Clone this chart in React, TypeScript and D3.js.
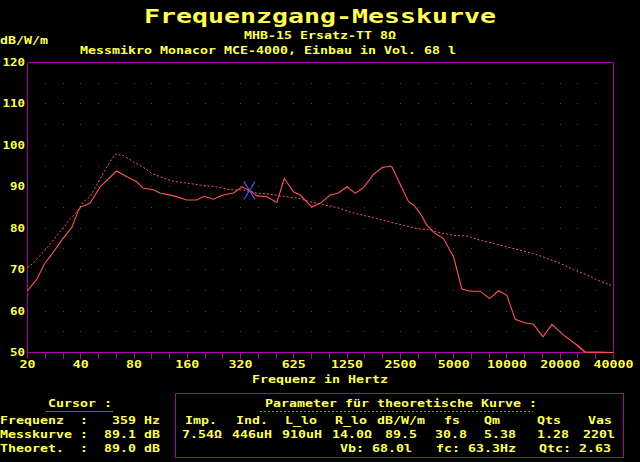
import React from "react";
import * as d3 from "d3";

// ---- data ----
const xTickLabels = ["20", "40", "80", "160", "320", "625", "1250", "2500", "5000", "10000", "20000", "40000"];
const yTickValues = [50, 60, 70, 80, 90, 100, 110, 120];

const measuredFreq = [20, 22.6, 25, 26.9, 31.5, 35.6, 38.8, 39.9, 45.2, 51.5, 63.7, 72.9, 83.1, 89.8, 103, 112, 134, 159, 181, 199, 225, 245, 256, 292, 326, 363, 396, 451, 513, 565, 637, 695, 809, 902, 1027, 1144, 1276, 1422, 1584, 1804, 2013, 2242, 2293, 2845, 3036, 3313, 3615, 4026, 4485, 5110, 5700, 6352, 7232, 8161, 9178, 10240, 11400, 12988, 14470, 16352, 18384, 21380, 25440, 28340, 40960];
const measuredDb = [64.9, 67.7, 71.5, 73.2, 77.3, 80.2, 84.3, 85.1, 86.1, 90.0, 93.8, 92.4, 91.2, 89.7, 89.3, 88.5, 87.8, 86.8, 86.8, 87.7, 87.0, 87.7, 88.0, 88.5, 90.0, 89.0, 87.8, 87.6, 86.2, 92.0, 88.8, 88.0, 85.1, 86.0, 88.0, 88.5, 90.0, 88.4, 89.8, 93.0, 94.6, 95.0, 94.8, 86.4, 85.6, 83.6, 80.7, 78.7, 77.5, 73.1, 65.3, 64.8, 64.8, 63.0, 64.9, 63.8, 58.0, 57.1, 56.8, 53.8, 56.8, 54.2, 51.8, 50.1, 50.0];

const theoFreq = [20, 21.6, 24.6, 27.5, 31.3, 34.9, 38.0, 41.4, 45.2, 51.5, 56.2, 62.6, 69.7, 79.5, 90.5, 101, 117, 134, 159, 189, 225, 245, 279, 332, 396, 470, 559, 666, 792, 942, 1120, 1333, 1584, 1886, 2242, 2666, 3174, 3772, 4296, 5110, 6084, 7232, 8600, 10240, 12168, 14470, 17220, 20480, 24360, 28980, 34480, 40960];
const theoDb = [70.5, 71.6, 74.3, 76.7, 79.7, 82.3, 83.9, 86.4, 87.6, 92.0, 94.8, 97.9, 97.5, 96.0, 94.7, 93.2, 92.1, 91.3, 90.9, 90.4, 90.1, 89.8, 89.3, 89.2, 88.5, 88.2, 87.7, 87.3, 86.4, 85.7, 85.0, 83.9, 83.1, 82.3, 81.5, 80.7, 79.9, 79.6, 78.9, 78.3, 78.1, 77.1, 76.3, 75.5, 74.7, 73.9, 72.7, 71.5, 70.0, 68.7, 67.2, 66.0];

const cursorFreq = 359;
const cursorDb = 89.1;

const cursorRows = [
  ["Frequenz", "359", "Hz"],
  ["Messkurve", "89.1", "dB"],
  ["Theoret.", "89.0", "dB"],
];
const paramHeaders = ["Imp.", "Ind.", "L_lo", "R_lo", "dB/W/m", "fs", "Qm", "Qts", "Vas"];
const paramValues = ["7.54Ω", "446uH", "910uH", "14.0Ω", "89.5", "30.8", "5.38", "1.28", "220l"];
const paramExtra = ["Vb: 68.0l", "fc: 63.3Hz", "Qtc: 2.63"];

// ---- styles / layout ----
const W = 640, H = 462;
const YEL = "#ffff55";
const MAG = "#aa00aa";
const RED = "#ff5555";
const BLUE = "#5555ff";
const FONT = "'DejaVu Sans Mono', 'Liberation Mono', monospace";

const headerX = [185, 236, 285, 335, 377, 444, 484, 537, 588];
const valueX = [182, 232, 282, 332, 385, 435, 484, 537, 583];
const extraX = [340, 436, 539];

function T({ x, y, s, cw = 8, fs = 10, anchor = "start", fill = YEL }: any) {
  return (
    <text
      x={x}
      y={y}
      textLength={s.length * cw}
      lengthAdjust="spacingAndGlyphs"
      fontSize={fs}
      fontFamily={FONT}
      fontWeight="bold"
      textAnchor={anchor}
      fill={fill}
    >
      {s}
    </text>
  );
}

export default function App() {
  const x = d3.scaleLog().base(2).domain([20, 40960]).range([27.5, 613.5]);
  const y = d3.scaleLinear().domain([50, 120]).range([352.5, 62.5]);
  const px = (v: number) => Math.round(x(v) - 0.5) + 0.5;
  const py = (v: number) => Math.round(y(v) - 0.5) + 0.5;

  const thirdOct = d3.range(0, 34).map((i) => 20 * Math.pow(2, i / 3));
  const octaves = d3.range(0, 12).map((i) => 20 * Math.pow(2, i));
  const gridDb = d3.range(55, 120, 5);

  const line = d3
    .line<[number, number]>()
    .x((d) => x(d[0]))
    .y((d) => y(d[1]));
  const measured = line(measuredFreq.map((f, i) => [f, measuredDb[i]]) as [number, number][]);
  const theo = line(theoFreq.map((f, i) => [f, theoDb[i]]) as [number, number][]);

  const cx = x(cursorFreq), cy = y(cursorDb);

  return (
    <svg width={W} height={H} style={{ position: "absolute", left: 0, top: 0, display: "block" }}>
      <rect x={0} y={0} width={W} height={H} fill="#000" />

      {/* titles */}
      <T x={320} y={23} s="Frequenzgang-Messkurve" cw={16} fs={19} anchor="middle" />
      <T x={320} y={39} s="MHB-15 Ersatz-TT 8Ω" anchor="middle" />
      <T x={0} y={44} s="dB/W/m" />
      <T x={80} y={54} s="Messmikro Monacor MCE-4000, Einbau in Vol. 68 l" />

      {/* grid dots */}
      <g fill={MAG} shapeRendering="crispEdges">
        {thirdOct.slice(1, 33).map((f, i) =>
          gridDb.map((db, j) => (
            <rect key={i + "-" + j} x={px(f) - 0.5} y={py(db) - 0.5} width={1} height={1} />
          ))
        )}
      </g>

      {/* frame / axes */}
      <g stroke={MAG} strokeWidth={1} fill="none" shapeRendering="crispEdges">
        <line x1={px(20)} x2={px(40960)} y1={py(120)} y2={py(120)} />
        <line x1={px(20)} x2={px(20)} y1={py(120)} y2={py(50)} />
        <line x1={px(40960)} x2={px(40960)} y1={py(120)} y2={py(50)} />
        {thirdOct.map((f, i) => (
          <line key={i} x1={px(f)} x2={px(f)} y1={py(50)} y2={py(50) + 6} />
        ))}
      </g>

      {/* y labels */}
      {yTickValues.map((v) => (
        <T key={v} x={25} y={y(v) + 3.5} s={String(v)} cw={7.5} anchor="end" />
      ))}

      {/* x labels */}
      {octaves.map((f, i) => (
        <T key={i} x={x(f)} y={368} s={xTickLabels[i]} anchor="middle" />
      ))}
      <T x={320} y={383} s="Frequenz in Hertz" anchor="middle" />

      {/* curves */}
      <path d={theo || ""} fill="none" stroke={RED} strokeWidth={1} strokeDasharray="2 2" />
      <path d={measured || ""} fill="none" stroke={RED} strokeWidth={1.1} />
      <line x1={px(20)} x2={px(40960)} y1={py(50)} y2={py(50)} stroke={MAG} shapeRendering="crispEdges" />
      <path
        d={line(measuredFreq.map((f, i) => [f, measuredDb[i]]).filter((d) => d[0] >= 25440) as [number, number][]) || ""}
        fill="none"
        stroke={RED}
        strokeWidth={1.1}
      />

      {/* cursor */}
      <g stroke={BLUE} strokeWidth={1.2}>
        <line x1={cx - 5.5} y1={cy - 9} x2={cx + 5.5} y2={cy + 9} />
        <line x1={cx + 5.5} y1={cy - 9} x2={cx - 5.5} y2={cy + 9} />
      </g>

      {/* cursor panel */}
      <T x={48} y={407} s="Cursor :" />
      <line x1={46} x2={113} y1={411.5} y2={411.5} stroke={BLUE} strokeWidth={1} />
      {cursorRows.map((r, i) => (
        <g key={i}>
          <T x={0} y={424 + i * 14} s={r[0]} />
          <T x={80} y={424 + i * 14} s=":" />
          <T x={136} y={424 + i * 14} s={r[1]} anchor="end" />
          <T x={144} y={424 + i * 14} s={r[2]} />
        </g>
      ))}

      {/* parameter box */}
      <rect x={175.5} y={393.5} width={448} height={64} fill="none" stroke={MAG} strokeWidth={1} />
      <T x={265} y={407} s="Parameter für theoretische Kurve :" />
      <line x1={260} x2={533} y1={411.5} y2={411.5} stroke={RED} strokeWidth={1} strokeDasharray="2 2" />
      {paramHeaders.map((s, i) => (
        <T key={"h" + i} x={headerX[i]} y={424} s={s} />
      ))}
      {paramValues.map((s, i) => (
        <T key={"v" + i} x={valueX[i]} y={438} s={s} />
      ))}
      {paramExtra.map((s, i) => (
        <T key={"e" + i} x={extraX[i]} y={452} s={s} />
      ))}
    </svg>
  );
}
